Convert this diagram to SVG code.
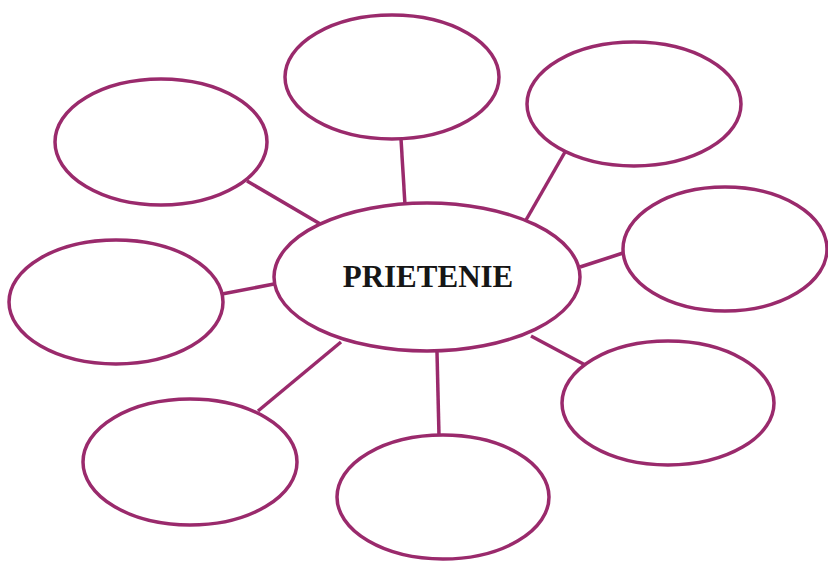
<svg xmlns="http://www.w3.org/2000/svg" width="828" height="562" viewBox="0 0 828 562">
<style>
.n{fill:#fff;stroke:#9a2a6c;stroke-width:3.5}
.c line{stroke:#9a2a6c;stroke-width:3.5}
.t{font-family:"Liberation Serif",serif;font-weight:bold;font-size:31px;fill:#161616}
</style>
<rect width="828" height="562" fill="#fff"/>
<g class="c" id="connectors">
<line x1="401" y1="139" x2="405" y2="205"/>
<line x1="565" y1="152" x2="526" y2="220"/>
<line x1="247" y1="181" x2="322" y2="225"/>
<line x1="623" y1="253" x2="580" y2="267"/>
<line x1="222" y1="294" x2="274" y2="284"/>
<line x1="531" y1="336" x2="589" y2="367"/>
<line x1="258" y1="411" x2="341" y2="342"/>
<line x1="437" y1="352" x2="439" y2="436"/>
</g>
<g id="center"><ellipse class="n" cx="427" cy="277" rx="153" ry="74"/><text class="t" x="428" y="287" text-anchor="middle">PRIETENIE</text></g>
<g id="top"><ellipse class="n" cx="392" cy="77" rx="107" ry="62"/></g>
<g id="topright"><ellipse class="n" cx="634" cy="104" rx="107" ry="62"/></g>
<g id="topleft"><ellipse class="n" cx="161" cy="142" rx="106" ry="63"/></g>
<g id="right"><ellipse class="n" cx="725" cy="249" rx="102" ry="62"/></g>
<g id="left"><ellipse class="n" cx="116" cy="302" rx="107" ry="62"/></g>
<g id="bottomright"><ellipse class="n" cx="668" cy="403" rx="106" ry="62"/></g>
<g id="bottomleft"><ellipse class="n" cx="190" cy="462" rx="107" ry="63"/></g>
<g id="bottom"><ellipse class="n" cx="443" cy="497" rx="106" ry="62"/></g>
</svg>
